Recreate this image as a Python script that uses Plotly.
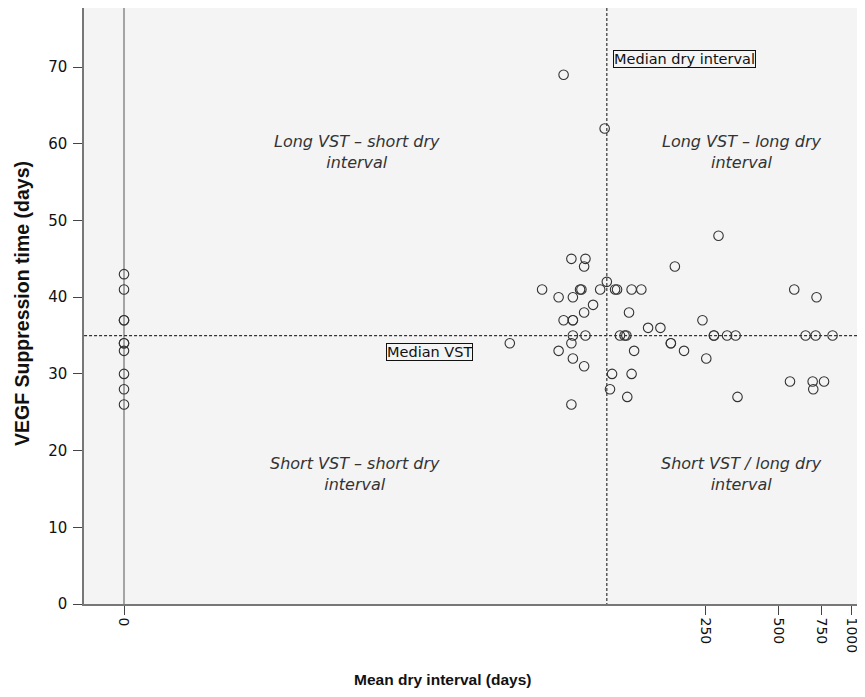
import plotly.graph_objects as go

# Mean dry interval (days) for each eye
dry_interval = [0, 0, 0, 0, 0, 0, 0, 0, 0, 0,
                64, 95, 282, 69, 79, 78, 186, 97, 52, 75,
                76, 91, 105, 107, 123, 135, 580, 61, 70, 717,
                85, 78, 120, 64, 70, 70, 242, 144, 162, 70,
                79, 110, 115, 117, 270, 270, 306, 332, 646, 711,
                835, 38, 69, 179, 179, 61, 126, 203, 70, 251,
                78, 102, 123, 557, 691, 770, 100, 695, 118, 338,
                69]
# VEGF suppression time (days)
vst = [43, 41, 37, 37, 34, 34, 33, 30, 28, 26,
       69, 62, 48, 45, 45, 44, 44, 42, 41, 41,
       41, 41, 41, 41, 41, 41, 41, 40, 40, 40,
       39, 38, 38, 37, 37, 37, 37, 36, 36, 35,
       35, 35, 35, 35, 35, 35, 35, 35, 35, 35,
       35, 34, 34, 34, 34, 33, 33, 33, 32, 32,
       31, 30, 30, 29, 29, 29, 28, 28, 27, 27,
       26]

median_dry = 97
median_vst = 35

x_tick_values = [0, 250, 500, 750, 1000]
x_tick_labels = ["0", "250", "500", "750", "1000"]
y_tick_values = [0, 10, 20, 30, 40, 50, 60, 70]

quadrant_labels = ["Long VST – short dry<br>interval",
                   "Long VST – long dry<br>interval",
                   "Short VST – short dry<br>interval",
                   "Short VST / long dry<br>interval"]

FONT = "DejaVu Sans"
TITLE_FONT = "Liberation Sans"
x_plot = [d + 1 for d in dry_interval]

fig = go.Figure()

# zero reference (solid) line
fig.add_trace(go.Scatter(x=[1, 1], y=[-100, 200], mode="lines",
                         line=dict(color="#555555", width=1), hoverinfo="skip", showlegend=False))
# median lines
fig.add_trace(go.Scatter(x=[median_dry + 1, median_dry + 1], y=[-100, 200], mode="lines",
                         line=dict(color="#333333", width=1.2, dash="3px,2px"), hoverinfo="skip", showlegend=False))
fig.add_trace(go.Scatter(x=[0.01, 100000], y=[median_vst, median_vst], mode="lines",
                         line=dict(color="#333333", width=1.2, dash="3px,2px"), hoverinfo="skip", showlegend=False))

fig.add_trace(go.Scatter(x=x_plot, y=vst, mode="markers",
                         marker=dict(symbol="circle-open", size=9.5, color="#333333", line=dict(width=1.1)),
                         showlegend=False))

ann_font = dict(family=FONT, size=16, color="#333333")
quad_pos = [(0.3496, 0.758), (0.8425, 0.758), (0.347, 0.218), (0.8425, 0.218)]
for txt, (px, py) in zip(quadrant_labels, quad_pos):
    fig.add_annotation(x=px, y=py, xref="paper", yref="paper", text="<i>" + txt + "</i>",
                       xanchor="center", yanchor="middle",
                       showarrow=False, font=ann_font, align="center")

fig.add_annotation(x=0.4424, y=0.4228, xref="paper", yref="paper", text="Median VST",
                   xanchor="center", yanchor="middle",
                   showarrow=False, font=dict(family=FONT, size=14.5, color="#111111"),
                   bordercolor="#111111", borderwidth=1, borderpad=0)
fig.add_annotation(x=0.7695, y=0.9144, xref="paper", yref="paper", text="Median dry interval",
                   xanchor="center", yanchor="middle",
                   showarrow=False, font=dict(family=FONT, size=14.5, color="#111111"),
                   bordercolor="#111111", borderwidth=1, borderpad=0)

# axis titles
fig.add_annotation(x=0.4584, y=-0.1275, xref="paper", yref="paper",
                   text="<b>Mean dry interval (days)</b>", xanchor="center", yanchor="middle",
                   showarrow=False, font=dict(family=TITLE_FONT, size=15.5, color="#111111"))
fig.add_annotation(x=-0.0794, y=0.505, xref="paper", yref="paper", textangle=-90,
                   text="<b>VEGF Suppression time (days)</b>", xanchor="center", yanchor="middle",
                   showarrow=False, font=dict(family=TITLE_FONT, size=19.5, color="#111111"))

# the page places the figure 8px from its top-left corner
fig.update_layout(
    width=857, height=689,
    margin=dict(l=76, r=0, t=0, b=93),
    paper_bgcolor="white", plot_bgcolor="#f4f4f4",
    font=dict(family=FONT, size=14, color="#111111"),
)
fig.update_xaxes(type="log", range=[-0.165, 3.056], automargin=False,
                 tickvals=[v + 1 for v in x_tick_values], ticktext=x_tick_labels, tickangle=90,
                 ticks="outside", ticklen=9, tickcolor="#444444",
                 tickfont=dict(size=14),
                 showline=True, linecolor="#777777", linewidth=1.5, mirror=True,
                 showgrid=False, zeroline=False)
fig.update_yaxes(range=[0, 77.7], tickvals=y_tick_values, automargin=False,
                 ticks="outside", ticklen=9, tickcolor="#444444",
                 tickfont=dict(size=15), ticklabelstandoff=3,
                 showline=True, linecolor="#777777", linewidth=1.5,
                 showgrid=False, zeroline=False)

fig.write_html("out.html")
